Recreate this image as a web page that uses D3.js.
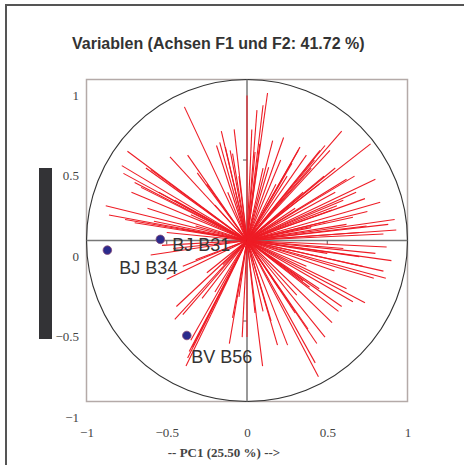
<!DOCTYPE html>
<html>
<head>
<meta charset="utf-8">
<script src="https://cdn.jsdelivr.net/npm/d3@7"></script>
<style>
  html, body { margin: 0; padding: 0; background: #fff; }
  svg { display: block; }
</style>
</head>
<body>
<svg id="chart" width="464" height="465"></svg>
<script>
// Correlation circle: PC1 / PC2 loadings of the variables
const titleText = "Variablen (Achsen F1 und F2: 41.72 %)";
const xAxisTitle = "-- PC1 (25.50 %) -->";
const tickValues = [-1, -0.5, 0, 0.5, 1];

// variable loadings [PC1, PC2]
const variableLoadings = [
  // upper left
  [-0.39,0.83],[-0.745,0.554],[-0.78,0.465],[-0.77,0.417],[-0.63,0.45],[-0.60,0.44],
  [-0.70,0.36],[-0.66,0.33],[-0.72,0.30],[-0.48,0.52],[-0.37,0.53],[-0.31,0.42],
  [-0.88,0.216],[-0.86,0.158],[-0.76,0.13],[-0.70,0.11],[-0.58,0.12],[-0.32,0.09],
  [-0.40,0.07],[-0.19,0.59],[-0.16,0.68],[-0.17,0.61],[-0.135,0.58],[-0.105,0.56],
  [-0.08,0.69],[-0.09,0.54],[0.0,0.90],[-0.55,0.30],[-0.45,0.25],[-0.25,0.35],
  [-0.05,0.40],[-0.20,0.22],[-0.12,0.30],[-0.50,0.05],[-0.62,0.20],[-0.35,0.16],
  // lower left
  [-0.60,-0.09],[-0.46,-0.05],[-0.53,-0.03],[-0.32,-0.12],[-0.50,-0.24],[-0.44,-0.41],
  [-0.45,-0.49],[-0.40,-0.46],[-0.38,-0.78],[-0.37,-0.73],[-0.36,-0.69],[-0.34,-0.66],
  [-0.35,-0.62],[-0.11,-0.64],[-0.09,-0.48],[-0.20,-0.32],[-0.25,-0.20],[-0.15,-0.15],
  [-0.03,-0.60],[-0.05,-0.35],[-0.28,-0.36],[-0.40,-0.16],
  // upper right
  [0.128,0.916],[0.10,0.84],[0.062,0.81],[0.03,0.69],[0.59,0.68],[0.77,0.60],
  [0.228,0.64],[0.33,0.58],[0.32,0.56],[0.486,0.59],[0.517,0.56],[0.455,0.56],
  [0.37,0.53],[0.21,0.50],[0.135,0.455],[0.10,0.45],[0.80,0.38],[0.67,0.40],
  [0.62,0.38],[0.735,0.26],[0.83,0.237],[0.56,0.216],[0.53,0.19],[0.66,0.144],
  [0.92,0.13],[0.745,0.09],[0.85,0.04],[0.93,0.065],[0.42,0.50],[0.40,0.45],
  [0.28,0.48],[0.25,0.40],[0.45,0.35],[0.55,0.30],[0.60,0.25],[0.50,0.12],
  [0.70,0.05],[0.62,0.10],[0.35,0.30],[0.18,0.35],[0.05,0.55],[0.08,0.60],
  [0.30,0.20],[0.40,0.08],[0.75,0.18],[0.68,0.30],[0.16,0.62],[0.55,0.45],
  [0.48,0.40],[0.88,0.10],
  // lower right
  [0.87,-0.04],[0.90,-0.125],[0.85,-0.19],[0.865,-0.235],[0.79,-0.235],[0.735,-0.386],
  [0.545,-0.19],[0.59,-0.41],[0.57,-0.44],[0.53,-0.51],[0.486,-0.60],[0.435,-0.64],
  [0.445,-0.846],[0.425,-0.76],[0.253,-0.65],[0.19,-0.65],[0.097,-0.78],[0.10,-0.44],
  [0.66,-0.38],[0.0,-0.60],[0.50,-0.08],[0.60,-0.05],[0.70,-0.10],[0.45,-0.30],
  [0.35,-0.25],[0.30,-0.45],[0.20,-0.30],[0.15,-0.50],[0.05,-0.45],[0.38,-0.55],
  [0.72,-0.16],[0.80,-0.08],[0.62,-0.30],[0.37,-0.16],[0.39,-0.29],[0.31,-0.34]
];

// supplementary observations
const obsNames = ["BJ B31", "BJ B34", "BV B56"];
const obsPC1 = [-0.54, -0.87, -0.375];
const obsPC2 = [0.007, -0.06, -0.59];

// label placement relative to each marker (px)
const labelOffsets = [[12, 11.5], [12, 24], [4.5, 27.5]];

const svg = d3.select("#chart");

const x = d3.scaleLinear().domain([-1, 1]).range([86.5, 407.5]);
const y = d3.scaleLinear().domain([-1, 1]).range([401.5, 79.5]);

// outer frame (top and left edges)
svg.append("path")
  .attr("d", "M6,465 L6,5 L464,5")
  .attr("fill", "none").attr("stroke", "#555").attr("stroke-width", 2);

// dark side bar
svg.append("rect")
  .attr("x", 39).attr("y", 168).attr("width", 13).attr("height", 171)
  .attr("fill", "#333336");

// title
svg.append("text")
  .attr("x", 72).attr("y", 48.5)
  .attr("font-family", "'Liberation Sans', Arial, sans-serif")
  .attr("font-weight", "bold").attr("font-size", 16)
  .attr("fill", "#333")
  .text(titleText);

// plot box
svg.append("rect")
  .attr("x", x(-1)).attr("y", y(1))
  .attr("width", x(1) - x(-1)).attr("height", y(-1) - y(1))
  .attr("fill", "none").attr("stroke", "#b4aaa8").attr("stroke-width", 1.5);

// unit circle
svg.append("ellipse")
  .attr("cx", x(0)).attr("cy", y(0))
  .attr("rx", x(1) - x(0)).attr("ry", y(-1) - y(0))
  .attr("fill", "none").attr("stroke", "#333").attr("stroke-width", 1.1);

// axis lines through origin
svg.append("line")
  .attr("x1", x(-1)).attr("x2", x(1)).attr("y1", y(0)).attr("y2", y(0))
  .attr("stroke", "#777").attr("stroke-width", 1.5);
svg.append("line")
  .attr("x1", x(0)).attr("x2", x(0)).attr("y1", y(1)).attr("y2", y(-1))
  .attr("stroke", "#777").attr("stroke-width", 1.5);

// small ticks on the central axes
svg.selectAll(".tx").data([-0.5, 0.5]).enter().append("line")
  .attr("x1", d => x(d)).attr("x2", d => x(d))
  .attr("y1", y(0)).attr("y2", y(0) + 4)
  .attr("stroke", "#555").attr("stroke-width", 1);
svg.selectAll(".ty").data([-0.5, 0.5]).enter().append("line")
  .attr("x1", x(0) - 4).attr("x2", x(0))
  .attr("y1", d => y(d)).attr("y2", d => y(d))
  .attr("stroke", "#555").attr("stroke-width", 1);

// variable vectors
svg.append("g").selectAll("line").data(variableLoadings).enter().append("line")
  .attr("x1", x(0)).attr("y1", y(0))
  .attr("x2", d => x(d[0])).attr("y2", d => y(d[1]))
  .attr("stroke", "#ee1c25").attr("stroke-width", 1.1);

// tick labels
const tickFont = "'Liberation Serif', 'Times New Roman', serif";
const xAxis = svg.append("g")
  .attr("transform", `translate(0,${y(-1)})`)
  .call(d3.axisBottom(x).tickValues(tickValues).tickSize(0).tickPadding(26)
    .tickFormat(d3.format("")));
const yAxis = svg.append("g")
  .attr("transform", `translate(79,15.5)`)
  .call(d3.axisLeft(y).tickValues(tickValues).tickSize(0).tickPadding(0)
    .tickFormat(d3.format("")));
[xAxis, yAxis].forEach(g => {
  g.select(".domain").remove();
  g.selectAll("text")
    .attr("font-family", tickFont).attr("font-size", 13).attr("fill", "#444");
});

// x axis title
svg.append("text")
  .attr("x", 224).attr("y", 457).attr("text-anchor", "middle")
  .attr("font-family", tickFont).attr("font-weight", "bold").attr("font-size", 13)
  .attr("fill", "#444")
  .text(xAxisTitle);

// observation markers and labels
const obs = obsNames.map((n, i) => ({ name: n, pc1: obsPC1[i], pc2: obsPC2[i], off: labelOffsets[i] }));
svg.append("g").selectAll("circle").data(obs).enter().append("circle")
  .attr("cx", d => x(d.pc1)).attr("cy", d => y(d.pc2)).attr("r", 4.3)
  .attr("fill", "#2b2b8c").attr("stroke", "#8a4a78").attr("stroke-width", 0.8);
svg.append("g").selectAll("text").data(obs).enter().append("text")
  .attr("x", d => x(d.pc1) + d.off[0]).attr("y", d => y(d.pc2) + d.off[1])
  .attr("font-family", "'Liberation Sans', Arial, sans-serif").attr("font-size", 18)
  .attr("fill", "#333")
  .text(d => d.name);
</script>
</body>
</html>
